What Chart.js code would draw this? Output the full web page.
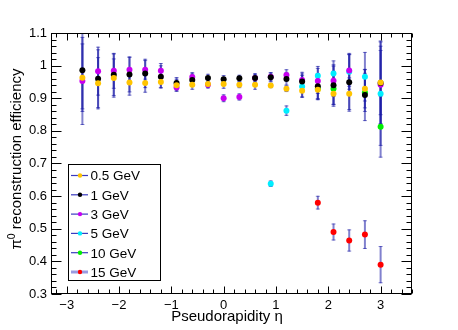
<!DOCTYPE html>
<html>
<head>
<meta charset="utf-8">
<script src="https://cdn.jsdelivr.net/npm/chart.js@4"></script>
<style>
html, body { margin: 0; padding: 0; background: #fff; }
</style>
</head>
<body>
<canvas id="myChart" width="458" height="330"></canvas>
<script>
// pseudorapidity bins
const eta = [-2.7, -2.4, -2.1, -1.8, -1.5, -1.2, -0.9, -0.6, -0.3, 0, 0.3, 0.6, 0.9, 1.2, 1.5, 1.8, 2.1, 2.4, 2.7, 3.0];

const seriesNames = ['0.5 GeV', '1 GeV', '3 GeV', '5 GeV', '10 GeV', '15 GeV'];

// efficiency and error per energy
const eff05 = [0.963, 0.946, 0.962, 0.948, 0.947, 0.950, 0.940, 0.941, 0.944, 0.944, 0.941, 0.941, 0.939, 0.929, 0.923, 0.926, 0.914, 0.914, 0.929, 0.948];
const err05 = [0.105, 0.080, 0.060, 0.040, 0.030, 0.020, 0.020, 0.015, 0.014, 0.015, 0.010, 0.015, 0.008, 0.010, 0.020, 0.030, 0.035, 0.050, 0.060, 0.100];

const eff1 = [0.986, 0.960, 0.972, 0.973, 0.976, 0.966, 0.947, 0.956, 0.962, 0.958, 0.961, 0.962, 0.964, 0.959, 0.951, 0.937, 0.940, 0.949, 0.910, 0.947];
const err1 = [0.120, 0.090, 0.065, 0.055, 0.045, 0.035, 0.018, 0.020, 0.013, 0.013, 0.011, 0.015, 0.015, 0.020, 0.030, 0.040, 0.060, 0.090, 0.080, 0.130];

const eff3 = [0.953, 0.983, 0.984, 0.987, 0.987, 0.984, 0.933, 0.965, 0.941, 0.900, 0.904, 0.962, 0.966, 0.971, 0.956, 0.953, 0.954, 0.985, null, 0.941];
const err3 = [0.135, 0.075, 0.055, 0.040, 0.030, 0.024, 0.012, 0.015, 0.010, 0.012, 0.011, 0.012, 0.014, 0.018, 0.020, 0.040, 0.050, 0.050, null, 0.120];

const eff5 = [null, null, null, null, null, null, null, null, null, null, null, null, 0.638, 0.862, 0.936, 0.969, 0.976, 0.981, 0.966, 0.914];
const err5 = [null, null, null, null, null, null, null, null, null, null, null, null, 0.010, 0.016, 0.035, 0.030, 0.040, 0.055, 0.076, 0.160];

const eff10 = [null, null, null, null, null, null, null, null, null, null, null, null, null, null, null, 0.929, 0.929, null, 0.918, 0.813];
const err10 = [null, null, null, null, null, null, null, null, null, null, null, null, null, null, null, 0.035, 0.055, null, 0.060, 0.095];

const eff15 = [null, null, null, null, null, null, null, null, null, null, null, null, null, null, null, 0.580, 0.490, 0.464, 0.482, 0.390];
const err15 = [null, null, null, null, null, null, null, null, null, null, null, null, null, null, null, 0.021, 0.026, 0.034, 0.044, 0.057];

const effs = [eff05, eff1, eff3, eff5, eff10, eff15];
const errs = [err05, err1, err3, err5, err10, err15];
const colors = ['#ffc400', '#000000', '#c800f0', '#00eeff', '#00ee00', '#ff0000'];

const FONT = '"Liberation Sans", Arial, Helvetica, sans-serif';

function makeData(k) {
    const pts = [];
    for (let i = 0; i < eta.length; i++) {
        if (effs[k][i] !== null) pts.push({x: eta[i], y: effs[k][i], e: errs[k][i]});
    }
    return pts;
}

const datasets = seriesNames.map(function(name, k) {
    return {
        label: name,
        data: makeData(k),
        showLine: false,
        pointRadius: 3,
        pointHoverRadius: 3,
        pointBorderWidth: 0,
        pointBackgroundColor: colors[k],
        borderColor: colors[k],
        backgroundColor: colors[k]
    };
});

// vertical error bars, drawn under the markers
const errorBars = {
    id: 'errorBars',
    beforeDatasetsDraw(chart) {
        const c = chart.ctx, a = chart.chartArea;
        const xs = chart.scales.x, ys = chart.scales.y;
        c.save();
        c.beginPath();
        c.rect(a.left, a.top, a.right - a.left, a.bottom - a.top);
        c.clip();
        c.strokeStyle = 'rgba(25,25,165,0.55)';
        for (let k = chart.data.datasets.length - 1; k >= 0; k--) {
            chart.data.datasets[k].data.forEach(function(p) {
                const px = xs.getPixelForValue(p.x);
                const y1 = ys.getPixelForValue(p.y + p.e);
                const y2 = ys.getPixelForValue(p.y - p.e);
                c.lineWidth = 2;
                c.beginPath();
                c.moveTo(px, y1);
                c.lineTo(px, y2);
                c.stroke();
                c.lineWidth = 1;
                c.beginPath();
                c.moveTo(px - 2, y1 + 0.5); c.lineTo(px + 2, y1 + 0.5);
                c.moveTo(px - 2, y2 - 0.5); c.lineTo(px + 2, y2 - 0.5);
                c.stroke();
            });
        }
        c.restore();
    }
};

// frame, inward ticks, legend and axis titles in ROOT style
const rootFrame = {
    id: 'rootFrame',
    afterDraw(chart) {
        const c = chart.ctx, a = chart.chartArea;
        const xs = chart.scales.x, ys = chart.scales.y;
        const L = Math.round(a.left) + 0.5, R = Math.round(a.right) - 0.5;
        const T = Math.round(a.top) + 0.5, B = Math.round(a.bottom) - 0.5;
        c.save();
        c.strokeStyle = '#000';
        c.lineWidth = 1;
        c.strokeRect(L, T, R - L, B - T);

        c.beginPath();
        // y ticks, major every 0.1, minor every 0.02
        for (let i = 15; i <= 55; i++) {
            const v = i * 0.02;
            const py = Math.round(ys.getPixelForValue(v)) + 0.5;
            const len = (i % 5 === 0) ? 10 : 5;
            c.moveTo(L, py); c.lineTo(L + len, py);
            c.moveTo(R, py); c.lineTo(R - len, py);
        }
        // x ticks, major every 1, minor every 0.2
        for (let i = -16; i <= 18; i++) {
            const v = i * 0.2;
            const px = Math.round(xs.getPixelForValue(v)) + 0.5;
            const len = (i % 5 === 0) ? 7 : 4;
            c.moveTo(px, B); c.lineTo(px, B - len);
            c.moveTo(px, T); c.lineTo(px, T + len);
        }
        c.stroke();

        // legend
        const lx = 68.5, ly = 164.5, lw = 92, lh = 116;
        c.fillStyle = '#fff';
        c.fillRect(lx, ly, lw, lh);
        c.strokeStyle = '#000';
        c.strokeRect(lx, ly, lw, lh);
        c.font = '13.5px ' + FONT;
        c.textAlign = 'left';
        c.textBaseline = 'alphabetic';
        chart.data.datasets.forEach(function(ds, k) {
            const cy = 175.5 + k * 19.3;
            if (k === 5) {
                c.strokeStyle = 'rgba(120,120,215,0.75)';
                c.lineWidth = 3;
            } else {
                c.strokeStyle = '#3a3ac0';
                c.lineWidth = 1.2;
            }
            c.beginPath();
            c.moveTo(71, cy); c.lineTo(88, cy);
            c.stroke();
            c.fillStyle = ds.pointBackgroundColor;
            c.beginPath();
            c.arc(80, cy, 2.2, 0, Math.PI * 2);
            c.fill();
            c.fillStyle = '#000';
            c.fillText(ds.label, 90.5, cy + 4.8);
        });

        // axis titles
        c.fillStyle = '#000';
        c.font = '15px ' + FONT;
        c.textAlign = 'center';
        c.fillText('Pseudorapidity \u03b7', 227, 321);

        c.translate(20.5, 159);
        c.rotate(-Math.PI / 2);
        const big = '15px ' + FONT, small = '10.5px ' + FONT;
        c.font = big;
        const wPi = c.measureText('\u03c0').width;
        const wRest = c.measureText(' reconstruction efficiency').width;
        c.font = small;
        const wSup = c.measureText('0').width;
        const total = wPi + wSup + wRest;
        let x0 = -total / 2;
        c.textAlign = 'left';
        c.font = big;
        c.fillText('\u03c0', x0, 0);
        c.font = small;
        c.fillText('0', x0 + wPi, -6);
        c.font = big;
        c.fillText(' reconstruction efficiency', x0 + wPi + wSup, 0);
        c.restore();
    }
};

function fmt(v) {
    const s = parseFloat(v.toFixed(1));
    return s < 0 ? '\u2212' + Math.abs(s) : String(s);
}

const ctx = document.getElementById('myChart').getContext('2d');
const myChart = new Chart(ctx, {
    type: 'scatter',
    data: { datasets: datasets },
    options: {
        responsive: false,
        animation: false,
        events: [],
        layout: { padding: { left: 0, right: 46, top: 33, bottom: 0 } },
        plugins: {
            legend: { display: false },
            tooltip: { enabled: false }
        },
        scales: {
            x: {
                type: 'linear',
                min: -3.3,
                max: 3.6,
                afterFit: function(scale) { scale.height = 36; },
                grid: { display: false, drawTicks: false },
                border: { display: false },
                ticks: {
                    stepSize: 1,
                    includeBounds: false,
                    maxRotation: 0,
                    padding: 4,
                    color: '#000',
                    font: { family: FONT, size: 13 },
                    callback: function(value) { return fmt(value); }
                }
            },
            y: {
                type: 'linear',
                min: 0.3,
                max: 1.1,
                afterFit: function(scale) { scale.width = 51; },
                grid: { display: false, drawTicks: false },
                border: { display: false },
                ticks: {
                    stepSize: 0.1,
                    padding: 4,
                    color: '#000',
                    font: { family: FONT, size: 13 },
                    callback: function(value) { return fmt(value); }
                }
            }
        }
    },
    plugins: [errorBars, rootFrame]
});
</script>
</body>
</html>
